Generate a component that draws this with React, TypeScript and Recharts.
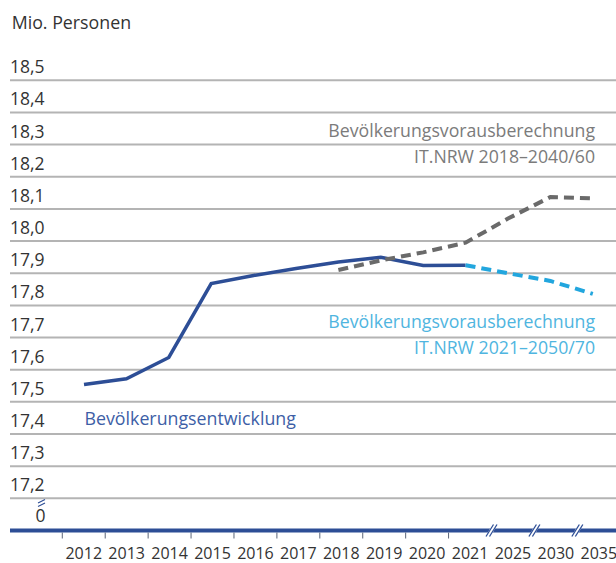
import React from 'react';
import { LineChart, Line, XAxis, YAxis, CartesianGrid } from 'recharts';

const years = ['2012', '2013', '2014', '2015', '2016', '2017', '2018', '2019', '2020', '2021', '2025', '2030', '2035'];
// Bevölkerungsentwicklung 2012–2021
const observed = [17.554, 17.572, 17.638, 17.868, 17.893, 17.915, 17.935, 17.95, 17.924, 17.925];
// IT.NRW 2018–2040/60, from 2018
const forecast2018 = [17.91, 17.94, 17.965, 17.995, 18.07, 18.137, 18.133];
// IT.NRW 2021–2050/70, from 2021
const forecast2021 = [17.925, 17.9, 17.876, 17.836];
const yTicks = [17.1, 17.2, 17.3, 17.4, 17.5, 17.6, 17.7, 17.8, 17.9, 18.0, 18.1, 18.2, 18.3, 18.4, 18.5];

const data = years.map((year, i) => ({
  year,
  observed: i < observed.length ? observed[i] : null,
  f2018: i >= 6 ? forecast2018[i - 6] : null,
  f2021: i >= 9 ? forecast2021[i - 9] : null,
}));

const FONT = "'Open Sans', 'Noto Sans', sans-serif";
const BLUE = '#2d4e96';
const GRAY = '#6a6a6a';
const CYAN = '#22a6de';
const HALF_BAND = 21.46;

const YTick = (props: any) => {
  const { y, payload } = props;
  const v = payload.value as number;
  if (Math.abs(v - 17.1) < 1e-6) {
    return (
      <g>
        <line x1={38} y1={503} x2={45} y2={499.5} stroke={BLUE} strokeWidth={1.2} />
        <line x1={38} y1={506.5} x2={45} y2={503} stroke={BLUE} strokeWidth={1.2} />
        <text x={45.5} y={y - 8.5} textAnchor="end" fontFamily={FONT} fontSize={17.5} fill="#333">0</text>
      </g>
    );
  }
  return (
    <text x={10} y={y - 7} textAnchor="start" fontFamily={FONT} fontSize={17.5} fill="#333">
      {v.toFixed(1).replace('.', ',')}
    </text>
  );
};

const XTick = (props: any) => {
  const { x, payload, index } = props;
  const b = x - HALF_BAND;
  return (
    <g>
      {index < 10 ? (
        <line x1={b} y1={532.5} x2={b} y2={538.5} stroke="#5a6478" strokeWidth={1} />
      ) : (
        <g>
          <polygon points={`${b - 6},${537} ${b - 1},${537} ${b + 6},${524} ${b + 1},${524}`} fill="#fff" />
          <line x1={b - 5.5} y1={536.5} x2={b + 2} y2={524.5} stroke={BLUE} strokeWidth={1.3} />
          <line x1={b - 2} y1={536.5} x2={b + 5.5} y2={524.5} stroke={BLUE} strokeWidth={1.3} />
        </g>
      )}
      <text x={x} y={559} textAnchor="middle" fontFamily={FONT} fontSize={16} fill="#333">
        {payload.value}
      </text>
    </g>
  );
};

export default function App() {
  return (
    <div style={{ position: 'absolute', left: 0, top: 0, width: 616, height: 563, overflow: 'hidden', background: '#fff' }}>
      <LineChart width={620} height={563} data={data} margin={{ top: 80.3, right: 0, bottom: 0, left: 0 }}>
        <CartesianGrid xAxisId="labels" vertical={false} stroke="#b4b4b4" strokeWidth={2} />
        <XAxis
          xAxisId="labels"
          dataKey="year"
          type="category"
          interval={0}
          padding={{ left: 73.75, right: 21.2 }}
          height={32.5}
          axisLine={{ stroke: BLUE, strokeWidth: 4 }}
          tickLine={false}
          tick={<XTick />}
        />
        <XAxis xAxisId="pts" dataKey="year" type="category" hide padding={{ left: 74, right: 27.2 }} />
        <YAxis
          type="number"
          domain={[17.1, 18.5]}
          ticks={yTicks}
          width={10}
          axisLine={false}
          tickLine={false}
          tick={<YTick />}
          interval={0}
          allowDataOverflow
        />
        <Line xAxisId="pts" dataKey="observed" stroke={BLUE} strokeWidth={3.5} dot={false} isAnimationActive={false} />
        <Line xAxisId="pts" dataKey="f2018" stroke={GRAY} strokeWidth={4} strokeDasharray="10 6" dot={false} isAnimationActive={false} />
        <Line xAxisId="pts" dataKey="f2021" stroke={CYAN} strokeWidth={4} strokeDasharray="10 6" dot={false} isAnimationActive={false} />
      </LineChart>
      <svg width={616} height={563} style={{ position: 'absolute', left: 0, top: 0, pointerEvents: 'none' }}>
        <text x={11.7} y={29} fontFamily={FONT} fontSize={17.8} fill="#333">Mio. Personen</text>
        <text x={595} y={136.5} textAnchor="end" fontFamily={FONT} fontSize={17.7} fill="#7b7b7b">Bevölkerungsvorausberechnung</text>
        <text x={595} y={163} textAnchor="end" fontFamily={FONT} fontSize={17.7} fill="#7b7b7b">IT.NRW 2018–2040/60</text>
        <text x={595} y={328} textAnchor="end" fontFamily={FONT} fontSize={17.7} fill="#4fb5e0">Bevölkerungsvorausberechnung</text>
        <text x={595} y={354} textAnchor="end" fontFamily={FONT} fontSize={17.7} fill="#4fb5e0">IT.NRW 2021–2050/70</text>
        <text x={84.5} y={424.5} fontFamily={FONT} fontSize={17.8} fill="#3d5ea6">Bevölkerungsentwicklung</text>
      </svg>
    </div>
  );
}
